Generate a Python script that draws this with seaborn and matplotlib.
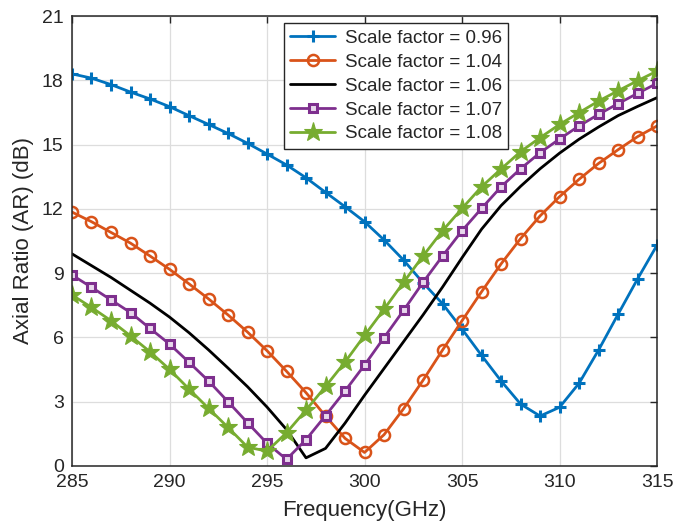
import matplotlib
matplotlib.use("Agg")
import matplotlib.pyplot as plt
import seaborn as sns
import pandas as pd

# DATA ------------------------------------------------------------------------
freq = list(range(285, 316))

ar_096 = [18.3, 18.1, 17.8, 17.45, 17.13, 16.77, 16.35, 15.94, 15.52, 15.06,
          14.56, 14.05, 13.45, 12.77, 12.1, 11.4, 10.55, 9.61, 8.55, 7.57,
          6.39, 5.16, 3.97, 2.89, 2.33, 2.74, 3.86, 5.41, 7.08, 8.73, 10.31]
ar_104 = [11.85, 11.4, 10.9, 10.4, 9.8, 9.18, 8.5, 7.8, 7.05, 6.25,
          5.38, 4.42, 3.42, 2.33, 1.29, 0.63, 1.46, 2.67, 4.0, 5.41,
          6.78, 8.13, 9.43, 10.61, 11.67, 12.57, 13.38, 14.12, 14.76, 15.37, 15.87]
ar_106 = [9.9, 9.35, 8.8, 8.2, 7.6, 6.95, 6.22, 5.42, 4.57, 3.7,
          2.75, 1.7, 0.38, 0.82, 2.0, 3.3, 4.55, 5.8, 7.05, 8.35,
          9.72, 11.05, 12.15, 13.05, 13.87, 14.6, 15.25, 15.82, 16.35, 16.78, 17.19]
ar_107 = [8.91, 8.34, 7.75, 7.16, 6.42, 5.69, 4.84, 3.97, 3.0, 2.02,
          1.06, 0.31, 1.23, 2.35, 3.5, 4.71, 5.99, 7.26, 8.57, 9.8,
          10.98, 12.02, 13.03, 13.87, 14.62, 15.26, 15.87, 16.41, 16.91, 17.39, 17.86]
ar_108 = [7.98, 7.4, 6.78, 6.07, 5.33, 4.51, 3.59, 2.69, 1.8, 0.88,
          0.69, 1.55, 2.61, 3.71, 4.85, 6.09, 7.31, 8.57, 9.8, 10.98,
          12.02, 13.03, 13.86, 14.67, 15.32, 15.94, 16.49, 17.03, 17.51, 17.98, 18.43]

labels = ["Scale factor = 0.96", "Scale factor = 1.04", "Scale factor = 1.06",
          "Scale factor = 1.07", "Scale factor = 1.08"]
series = [ar_096, ar_104, ar_106, ar_107, ar_108]

# STYLE -----------------------------------------------------------------------
colors = ["#0072BD", "#D95319", "#000000", "#7E2F8E", "#77AC30"]
marker_opts = [
    dict(marker="+", markersize=9, markeredgewidth=2.2),
    dict(marker="o", markersize=8, markeredgewidth=1.8, markerfacecolor="none"),
    dict(marker=None),
    dict(marker="s", markersize=5.5, markeredgewidth=2.2, markerfacecolor="#e8d8ec"),
    dict(marker="*", markersize=14, markeredgewidth=0.8),
]

sns.set_style("white")
plt.rcParams["font.family"] = ["Liberation Sans", "DejaVu Sans"]

df = pd.DataFrame({"Frequency": freq})
for lab, vals in zip(labels, series):
    df[lab] = vals

fig = plt.figure(figsize=(6.76, 5.30), dpi=100)
ax = fig.add_axes([0.1065, 0.1208, 0.8655, 0.8490])

for lab, col, mo in zip(labels, colors, marker_opts):
    sns.lineplot(data=df, x="Frequency", y=lab, color=col, linewidth=2.0,
                 label=lab, ax=ax, markeredgecolor=col, **mo)

# Format graph
ax.set_xlim(285, 315)
ax.set_ylim(0, 21)
ax.set_xticks(range(285, 316, 5))
ax.set_yticks(range(0, 22, 3))
ax.grid(True, color="#dddddd", linewidth=0.9)
ax.set_axisbelow(True)
ax.tick_params(direction="in", length=5, width=1, top=True, right=True,
               labelsize=14, colors="#262626", pad=6)
for sp in ax.spines.values():
    sp.set_visible(True)
    sp.set_color("#262626")
    sp.set_linewidth(1.1)
ax.set_xlabel("Frequency(GHz)", fontsize=16, color="#262626", labelpad=6)
ax.set_ylabel("Axial Ratio (AR) (dB)", fontsize=16, color="#262626", labelpad=6)

leg = ax.legend(loc="upper left", bbox_to_anchor=(0.362, 0.984), borderaxespad=0,
                fontsize=13.5, frameon=True, fancybox=False, edgecolor="#262626",
                framealpha=1, handlelength=2.4, handletextpad=0.5,
                labelspacing=0.36, borderpad=0.35)
leg.get_frame().set_linewidth(1.0)

fig.savefig("out.png", dpi=100)
